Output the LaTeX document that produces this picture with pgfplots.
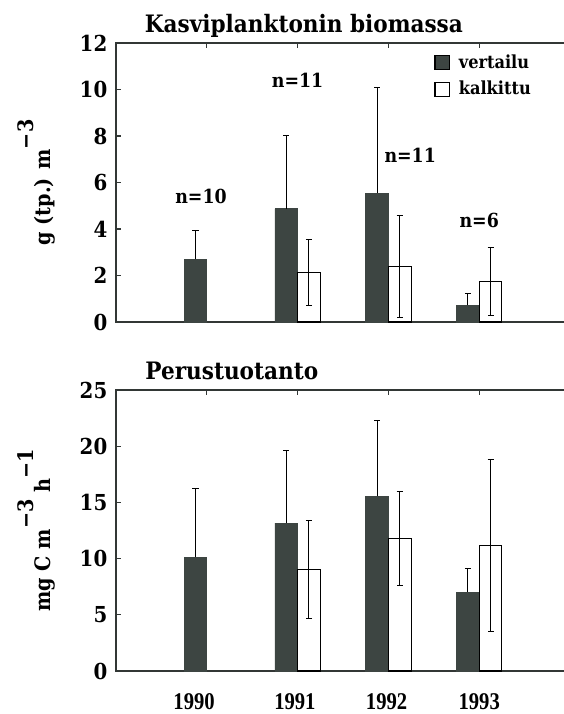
\documentclass[border=0pt]{standalone}
\usepackage{pgfplots}
\pgfplotsset{compat=1.18}
\usepackage{fontspec}
\setmainfont{DejaVu Serif Condensed}
\newfontfamily\yearfont{Liberation Serif}
\definecolor{barcol}{RGB}{61,69,66}
\definecolor{axcol}{RGB}{50,55,53}
\newcommand{\tk}{\fontsize{16.5}{19}\selectfont\bfseries}
\newcommand{\nl}{\fontsize{14.5}{17}\selectfont\bfseries}
\newcommand{\supr}[1]{\raisebox{12.5pt}{#1}}
\newcommand{\yr}{\yearfont\fontsize{18}{21}\selectfont\bfseries}
\tikzset{yearlab/.style={anchor=north, inner sep=0pt, font=\yr, yshift=-17pt}}
\pgfplotsset{
  panel/.style={
    scale only axis, width=338pt, xmin=0, xmax=4.963, ymin=0,
    axis line style={axcol, line width=1.1pt},
    tick align=inside, major tick length=3.5pt,
    tick style={axcol, line width=0.8pt},
    xtick={1,2,3,4}, xticklabels={}, xtick pos=right,
    ytick pos=left,
    /pgf/number format/assume math mode=true,
    yticklabel style={font=\tk, xshift=-3pt},
    clip=false,
  },
  dark/.style={ybar, bar width=0.25, bar shift=0pt, fill=barcol, draw=barcol, line width=0.5pt,
    error bars/.cd, y dir=plus, y explicit,
    error bar style={black, line width=0.7pt},
    error mark options={rotate=90, black, line width=0.7pt, mark size=2.3pt}},
  light/.style={ybar, bar width=0.25, bar shift=0pt, fill=white, draw=black, line width=0.8pt,
    error bars/.cd, y dir=both, y explicit,
    error bar style={black, line width=0.7pt},
    error mark options={rotate=90, black, line width=0.7pt, mark size=2.3pt}},
}
\begin{document}
\begin{tikzpicture}
\begin{axis}[panel, at={(87pt,-241.5pt)}, anchor=south west, height=209.25pt, ymax=12,
  ytick={0,2,4,6,8,10,12},
  legend style={at={(axis cs:3.46,11.7)}, anchor=north west, draw=none, fill=none,
    font=\fontsize{13.5}{16}\selectfont\bfseries, row sep=5pt,
    nodes={inner sep=1.5pt}},
  legend cell align=left,
  legend image code/.code={\draw[#1, draw=black, line width=0.8pt] (0pt,-5.25pt) rectangle (11pt,5.25pt); \path (16pt,0pt);},
]
\addplot[dark] coordinates {(0.875,2.69) +- (0,1.25) (1.875,4.87) +- (0,3.17) (2.875,5.54) +- (0,4.55) (3.875,0.71) +- (0,0.52)};
\addlegendentry{vertailu}
\addplot[light] coordinates {(2.125,2.14) +- (0,1.43) (3.125,2.40) +- (0,2.20) (4.125,1.74) +- (0,1.45)};
\addlegendentry{kalkittu}
\node[font=\nl] at (axis cs:0.936,5.42) {n=10};
\node[font=\nl] at (axis cs:2.0,10.39) {n=11};
\node[font=\nl] at (axis cs:3.24,7.18) {n=11};
\node[font=\nl] at (axis cs:4.0,4.35) {n=6};
\node[anchor=base, font=\fontsize{18}{21}\selectfont\bfseries] at (rel axis cs:0.417,1) [yshift=8.25pt] {Kasviplanktonin biomassa};
\node[xshift=-49.5pt, rotate=90, anchor=base, font=\fontsize{16}{19}\selectfont\bfseries] at (rel axis cs:0,0.5) {g (tp.) m\supr{−3}};
\end{axis}
\begin{axis}[panel, at={(87pt,-503.25pt)}, anchor=south west, height=210.75pt, ymax=25,
  ytick={0,5,10,15,20,25}]
\addplot[dark] coordinates {(0.875,10.13) +- (0,6.1) (1.875,13.15) +- (0,6.45) (2.875,15.55) +- (0,6.75) (3.875,7.02) +- (0,2.07)};
\addplot[light] coordinates {(2.125,9.03) +- (0,4.35) (3.125,11.8) +- (0,4.2) (4.125,11.17) +- (0,7.63)};
\node[anchor=base west, font=\fontsize{18}{21}\selectfont\bfseries] at (rel axis cs:0.055,1) [yshift=8.25pt] {Perustuotanto};
\node[xshift=-49.5pt, rotate=90, anchor=base, font=\fontsize{16}{19}\selectfont\bfseries] at (rel axis cs:0,0.5) {mg C m\supr{−3} h\supr{−1}};
\node[yearlab] at (axis cs:0.86,0) {\scalebox{0.86}[1]{1990}};
\node[yearlab] at (axis cs:1.97,0) {\scalebox{0.86}[1]{1991}};
\node[yearlab] at (axis cs:2.98,0) {\scalebox{0.86}[1]{1992}};
\node[yearlab] at (axis cs:4.0,0) {\scalebox{0.86}[1]{1993}};
\end{axis}
\pgfresetboundingbox
\useasboundingbox (0,0) rectangle (423pt,-535.5pt);
\end{tikzpicture}
\end{document}
